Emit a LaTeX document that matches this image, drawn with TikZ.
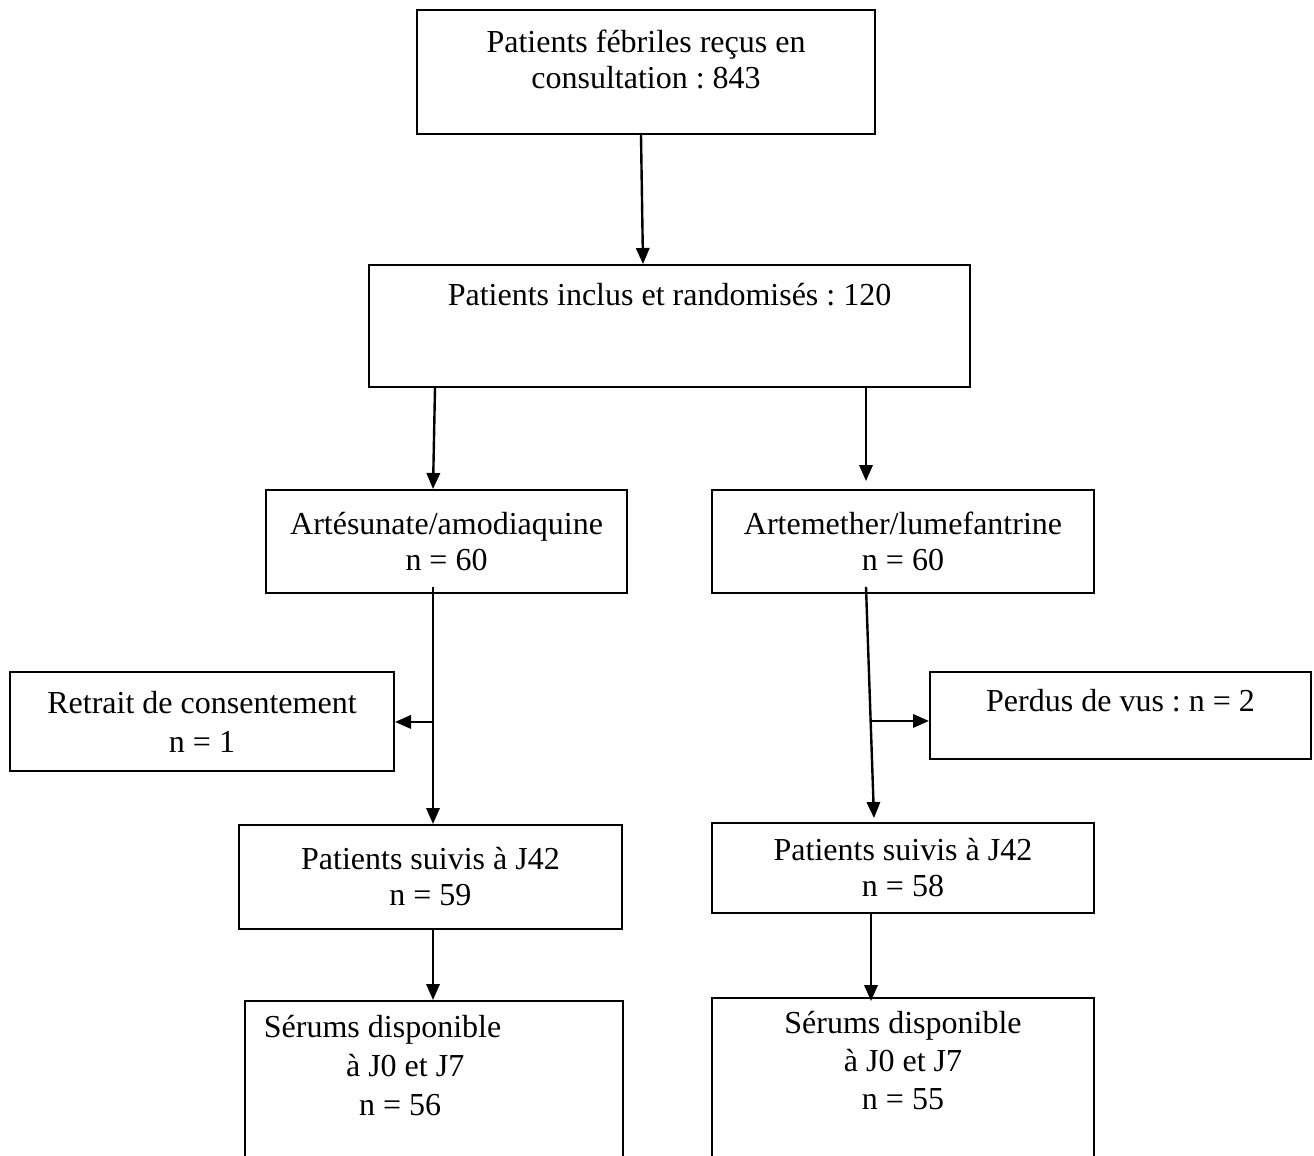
\documentclass[tikz,border=0pt]{standalone}
\usepackage{fontspec}
\setmainfont{Liberation Serif}
\usetikzlibrary{arrows.meta,calc}

% extra depth below the last line of a box
\newcommand\padbelow[1]{\rule[-#1]{0pt}{#1}}

\begin{document}
\begin{tikzpicture}[
  x=0.375pt, y=-0.375pt,
  >={Triangle[length=6pt,width=5pt]},
  font=\fontsize{12}{13.5}\selectfont,
  stagebox/.style={
    draw=black,
    line width=0.75pt,
    inner sep=0pt,
    align=center,
    anchor=north west,
    execute at begin node={\spaceskip=3pt\xspaceskip=3pt\frenchspacing}
  },
  flow/.style={->, line width=0.9pt}
]
  \useasboundingbox (0,0) rectangle (1314,1155);

  % Screening and randomisation
  \node[stagebox, text width=171.75pt, minimum height=46.5pt] (screen) at (416,9) {
    Patients fébriles reçus en\\consultation : 843\padbelow{9.5pt}};
  \node[stagebox, text width=225.4pt, minimum height=45.75pt] (random) at (368,264) {
    Patients inclus et randomisés : 120\padbelow{23.5pt}};

  % Treatment arms
  \node[stagebox, text width=135.4pt, minimum height=38.6pt] (armAS) at (265,489) {
    Artésunate/amodiaquine\\n = 60};
  \node[stagebox, text width=143.25pt, minimum height=38.6pt] (armAL) at (711,489) {
    Artemether/lumefantrine\\n = 60};

  % Exclusions
  \node[stagebox, text width=144pt, minimum height=37.1pt] (withdrawn) at (9,671) {
    Retrait de consentement\\[1.1pt]n = 1};
  \node[stagebox, text width=142.9pt, minimum height=32.6pt] (lost) at (929,671) {
    Perdus de vus : n = 2\padbelow{11pt}};

  % Follow-up
  \node[stagebox, text width=143.6pt, minimum height=39pt] (followAS) at (238,824) {
    Patients suivis à J42\\n = 59};
  \node[stagebox, text width=143.25pt, minimum height=33.75pt] (followAL) at (711,822) {
    Patients suivis à J42\\n = 58};

  % Sera (boxes run past the bottom edge)
  \node[stagebox, align=left, text width=141.75pt, minimum height=75pt] (seraAS) at (244,1000) {
    \hspace*{7.1pt}Sérums disponible\\[1.1pt]
    \hspace*{37.9pt}à J0 et J7\\[1.1pt]
    \hspace*{42.75pt}n = 56\padbelow{27pt}};
  \node[stagebox, text width=143.25pt, minimum height=75pt] (seraAL) at (711,997) {
    Sérums disponible\\[0.75pt]à J0 et J7\\[0.75pt]n = 55\padbelow{28.5pt}};

  % Connectors
  \draw[flow] ($(screen.south west)+(225,0)$) -- ($(random.north west)+(275,0)$);
  \draw[flow] ($(random.south west)+(67,0)$) -- ($(armAS.north west)+(168,0)$);
  \draw[flow] ($(random.south west)+(498,0)$) -- ($(armAL.north west)+(155,-8)$);

  \coordinate (outAS) at ($(armAS.south west)+(168,-7)$);
  \coordinate (outAL) at ($(armAL.south west)+(155,-7)$);
  \coordinate (inAL) at ($(followAL.north west)+(163,-4)$);
  \draw[flow] (outAS) -- ($(followAS.north west)+(195,0)$);
  \draw[flow] (outAL) -- (inAL);

  \coordinate (splitAS) at ($(armAS.south west)+(168,128)$);
  \coordinate (splitAL) at ($(outAL)!0.58!(inAL)$);
  \draw[flow] (splitAS) -- (splitAS -| withdrawn.east);
  \draw[flow] (splitAL) -- (splitAL -| lost.west);

  \draw[flow] ($(followAS.south west)+(195,0)$) -- ($(seraAS.north west)+(189,0)$);
  \draw[flow] ($(followAL.south west)+(160,0)$) -- ($(seraAL.north west)+(160,4)$);

\end{tikzpicture}
\end{document}
